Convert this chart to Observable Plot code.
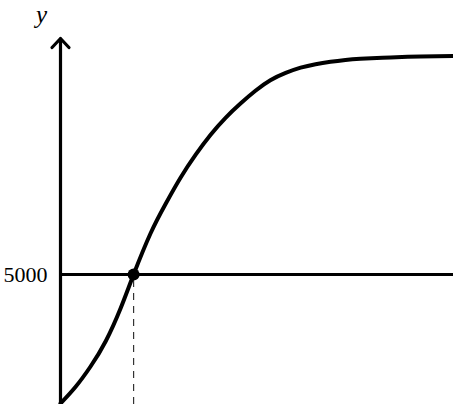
<!DOCTYPE html>
<html>
<head>
<meta charset="utf-8">
<script src="https://cdn.jsdelivr.net/npm/d3@7"></script>
<script src="https://cdn.jsdelivr.net/npm/@observablehq/plot@0.6"></script>
<style>
  html, body { margin: 0; padding: 0; background: #fff; }
  #chart svg { display: block; }
</style>
</head>
<body>
<div id="chart"></div>
<script>
// Curve
const tValues   = [0, 0.38, 0.76, 1.15, 1.53, 1.86, 2.29, 2.67, 3.05, 3.44, 3.82, 4.20, 4.58, 4.96, 5.34, 5.73, 6.11, 6.49, 6.87, 7.25, 7.63, 8.40, 9.16, 10];
const popValues = [2068, 2443, 2903, 3483, 4233, 5000, 5932, 6598, 7194, 7723, 8176, 8561, 8885, 9175, 9414, 9580, 9700, 9780, 9834, 9875, 9902, 9934, 9955, 9968];
// Threshold and the marked crossing point
const thresholdValue = [5000];
const crossingT = [1.86];
// Axis extents
const xDomain = [0, 10];
const yDomain = [2045, 11227];
const yAxisTop = [10364];
const yTickLabels = ["5000"];
const yLabel = ["y"];

const curve = tValues.map((t, i) => ({t, pop: popValues[i]}));
const crossing = crossingT.map((t, i) => ({t, pop: thresholdValue[i]}));
const axisArrow = yAxisTop.map(top => ({x: xDomain[0], y1: yDomain[0], y2: top}));

const serif = "'Liberation Serif', 'Times New Roman', serif";

const chart = Plot.plot({
  width: 453,
  height: 404,
  marginLeft: 60,
  marginRight: 0,
  marginTop: 0,
  marginBottom: 0,
  style: {fontFamily: serif, background: "#fff", overflow: "visible"},
  x: {domain: xDomain, axis: null},
  y: {domain: yDomain, axis: null},
  marks: [
    Plot.axisY({
      ticks: thresholdValue,
      tickFormat: (d, i) => yTickLabels[i],
      tickSize: 0,
      tickPadding: 13,
      fontSize: 22,
      fontFamily: serif,
      label: null
    }),
    Plot.ruleX(crossing, {x: "t", y1: yDomain[0], y2: "pop", stroke: "#333", strokeWidth: 1.2, strokeDasharray: "7,6"}),
    Plot.ruleY(thresholdValue, {x1: xDomain[0], x2: xDomain[1], stroke: "#000", strokeWidth: 3.2}),
    Plot.arrow(axisArrow, {x: "x", y1: "y1", y2: "y2", stroke: "#000", strokeWidth: 3.2, headAngle: 86, headLength: 5.8}),
    Plot.line(curve, {x: "t", y: "pop", curve: "natural", stroke: "#000", strokeWidth: 4}),
    Plot.dot(crossing, {x: "t", y: "pop", r: 6, fill: "#000", stroke: "none"}),
    Plot.text(yLabel, {
      text: d => d,
      frameAnchor: "top-left",
      dx: -19,
      dy: 22,
      lineAnchor: "bottom",
      textAnchor: "middle",
      fontSize: 25,
      fontStyle: "italic",
      fontFamily: serif,
      fill: "#000"
    })
  ]
});
document.getElementById("chart").append(chart);
</script>
</body>
</html>
